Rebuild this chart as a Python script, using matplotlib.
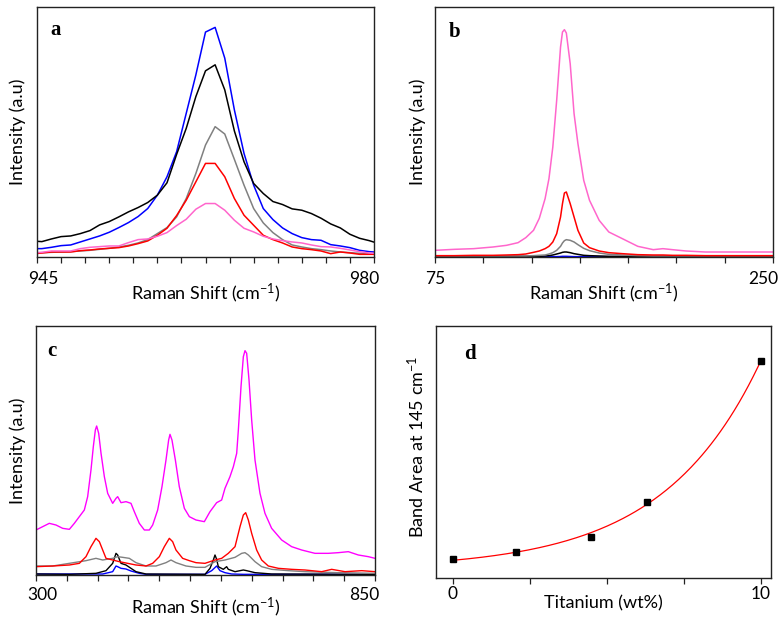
import numpy as np
import matplotlib
matplotlib.use("Agg")
import matplotlib.pyplot as plt
from matplotlib.transforms import ScaledTranslation

plt.rcParams['font.family'] = ['Lato', 'DejaVu Sans']
plt.rcParams['mathtext.default'] = 'regular'

# ---------------- Panel a data (945-980 cm-1) ----------------
a_x = np.arange(944.5, 981.0, 1.0)
a_blue = 770 - np.array([745, 745, 741, 736, 734, 725, 716, 707, 696, 682, 667, 649, 625, 585, 530, 455,
                         340, 225, 97, 83, 175, 330, 460, 555, 625, 658, 683, 700, 712, 718, 720, 733,
                         737, 742, 750, 754, 756])
a_black = 770 - np.array([722, 724, 716, 709, 707, 700, 691, 674, 664, 650, 635, 622, 607, 585, 548, 463,
                          385, 290, 213, 195, 270, 393, 485, 550, 580, 604, 613, 626, 630, 640, 654, 671,
                          683, 702, 714, 721, 730])
a_gray = 770 - np.array([758, 757, 756, 755, 754, 752, 750, 747, 744, 740, 735, 728, 718, 700, 682, 650,
                         595, 520, 435, 380, 402, 478, 555, 625, 668, 697, 718, 734, 740, 745, 748, 752,
                         755, 757, 759, 760, 761])
a_red = 770 - np.array([761, 758, 755, 755, 755, 751, 749, 746, 744, 742, 737, 730, 722, 705, 684, 646,
                        600, 545, 490, 490, 530, 595, 645, 675, 705, 718, 728, 740, 745, 748, 752, 760,
                        755, 758, 762, 762, 762])
a_pink = 770 - np.array([758, 756, 752, 752, 752, 745, 741, 739, 737, 737, 727, 718, 716, 708, 697, 676,
                         657, 627, 610, 610, 630, 660, 684, 695, 708, 716, 721, 725, 728, 734, 739, 740,
                         744, 749, 754, 758, 760])
a_ticks = [945, 947.5, 950, 952.5, 955, 957.5, 960, 962.5, 965, 967.5, 970, 972.5, 975, 977.5, 980]

# ---------------- Panel b data (75-250 cm-1) ----------------
b_x = np.array([75, 85, 95, 105, 112, 118, 122, 126, 129, 132, 134, 136, 138, 140, 141, 142, 143, 145,
                147, 149, 152, 155, 160, 165, 172, 180, 188, 193, 198, 205, 215, 230, 250])
b_pink = 770 - np.array([750, 747, 745, 740, 735, 727, 712, 690, 654, 595, 535, 440, 300, 140, 95, 88, 98,
                         190, 340, 430, 540, 600, 660, 695, 715, 738, 748, 745, 748, 752, 755, 755, 755])
b_red = 770 - np.array([766, 766, 765, 765, 764, 763, 761, 756, 752, 745, 738, 725, 700, 650, 610, 578, 575,
                        610, 650, 690, 728, 742, 752, 757, 760, 763, 764, 764, 765, 765, 766, 766, 766])
b_gray = 770 - np.array([767, 767, 767, 767, 767, 767, 767, 766, 765, 764, 761, 757, 750, 738, 728, 721, 718,
                         720, 725, 733, 744, 751, 758, 762, 764, 766, 767, 767, 767, 767, 767, 767, 767])
b_black = 770 - np.array([768, 768, 768, 768, 768, 768, 768, 768, 768, 767, 766, 764, 761, 758, 756, 755, 755,
                          757, 760, 762, 765, 766, 767, 768, 768, 768, 768, 768, 768, 768, 768, 768, 768])
b_blue = 770 - np.array([769, 769, 769, 769, 769, 769, 769, 769, 769, 769, 769, 769, 769, 768.5, 768, 768, 768,
                         768.5, 769, 769, 769, 769, 769, 769, 769, 769, 769, 769, 769, 769, 769, 769, 769])
b_ticks = [75, 100, 125, 150, 175, 200, 225, 250]

# ---------------- Panel c data (300-850 cm-1) ----------------
c_mag_x = np.array([300.0, 310.8, 321.6, 332.4, 343.3, 354.1, 362.2, 370.3, 378.4, 383.8, 389.2, 393.0,
                    396.3, 398.4, 401.7, 405.5, 410.9, 416.3, 424.4, 429.8, 432.5, 437.9, 446.0, 454.1,
                    459.5, 467.6, 475.8, 483.9, 489.3, 497.4, 504.4, 510.9, 515.2, 517.4, 520.6, 526.1,
                    532.5, 540.7, 548.8, 559.6, 573.1, 582.3, 593.1, 601.2, 606.6, 614.7, 620.2, 625.6,
                    628.3, 632.6, 636.4, 639.1, 641.8, 645.6, 649.9, 655.3, 663.4, 671.5, 682.3, 698.6,
                    714.8, 731.0, 752.6, 774.3, 790.5, 806.7, 823.0, 839.2, 850.0])
c_mag = np.array([135, 145, 155, 150, 140, 137, 155, 175, 195, 235, 315, 385, 435, 447, 425, 365, 295, 245,
                  215, 230, 235, 217, 220, 215, 190, 155, 135, 135, 150, 195, 265, 345, 405, 422, 405, 345,
                  265, 200, 175, 165, 160, 190, 217, 225, 260, 295, 325, 365, 435, 565, 655, 673, 665, 585,
                  465, 345, 245, 185, 140, 105, 85, 75, 65, 65, 67, 70, 60, 55, 50])
c_red_x = np.array([300.0, 327.0, 354.1, 370.3, 381.1, 389.2, 397.3, 402.8, 408.2, 413.6, 424.4, 435.2,
                    448.7, 462.2, 478.5, 489.3, 500.1, 508.2, 516.3, 521.7, 527.1, 537.9, 548.8, 559.6,
                    574.2, 590.4, 601.2, 612.0, 622.9, 631.0, 636.4, 640.2, 644.5, 649.9, 658.0, 666.1,
                    676.9, 693.2, 714.8, 736.4, 763.5, 779.7, 801.3, 828.4, 850.0])
c_red = np.array([25, 27, 30, 35, 55, 85, 110, 100, 75, 50, 45, 40, 35, 30, 27, 35, 55, 85, 110, 100, 75,
                  50, 43, 37, 35, 45, 50, 65, 85, 145, 180, 187, 165, 125, 75, 45, 27, 20, 17, 15, 10, 17,
                  10, 13, 10])
c_gray_x = np.array([300.0, 327.0, 354.1, 381.1, 397.3, 408.2, 424.4, 432.5, 440.6, 451.4, 462.2, 478.5,
                     494.7, 510.9, 519.0, 527.1, 543.4, 559.6, 574.2, 590.4, 606.6, 622.9, 633.7, 639.1,
                     644.5, 655.3, 666.1, 682.3, 709.4, 736.4, 790.5, 850.0])
c_gray = np.array([27, 27, 35, 43, 50, 45, 50, 55, 53, 50, 37, 27, 27, 37, 45, 37, 27, 23, 23, 40, 45, 53,
                   65, 67, 60, 40, 25, 17, 13, 10, 7, 5])
c_black_x = np.array([300.0, 354.1, 397.3, 413.6, 424.4, 429.8, 432.5, 437.9, 446.0, 454.1, 462.2, 478.5,
                      574.2, 582.3, 587.7, 590.4, 593.1, 595.8, 603.9, 609.3, 612.0, 622.9, 636.4, 641.8,
                      655.3, 682.3, 850.0])
c_black = np.array([3, 2, 5, 13, 35, 65, 60, 35, 30, 20, 10, 3, 2, 20, 45, 60, 47, 25, 17, 25, 17, 10, 15,
                    13, 7, 3, 2])
c_blue_x = np.array([300.0, 408.2, 424.4, 429.8, 432.5, 437.9, 446.0, 454.1, 467.6, 478.5, 574.2, 585.0,
                     593.1, 598.5, 606.6, 617.4, 636.4, 850.0])
c_blue = np.array([3, 3, 10, 27, 25, 20, 18, 12, 5, 2, 2, 13, 27, 13, 7, 3, 2, 2])
c_ticks = list(range(300, 851, 50))

# ---------------- Panel d data ----------------
d_ti = np.array([0.0, 2.06, 4.48, 6.3, 10.0])
d_area = np.array([56, 79, 123, 229, 650])
d_ticks = [0, 2.5, 5, 7.5, 10]

# ---------------- Figure ----------------
fig = plt.figure(figsize=(7.8, 6.18), dpi=100)
W, H = 780.0, 618.0


def add_ax(l, t, r, b):
    return fig.add_axes([l / W, 1 - b / H, (r - l) / W, (b - t) / H])


axa = add_ax(37, 7, 374, 257)
axb = add_ax(435, 7, 773, 257)
axc = add_ax(36, 326, 375, 575)
axd = add_ax(436, 326, 771, 578)

PINK = '#ff66cc'
MAG = '#ff00ff'
GRAY = '#808080'
lw = 1.1

axa.plot(a_x, a_blue, color='#0000ff', lw=lw)
axa.plot(a_x, a_black, color='black', lw=lw)
axa.plot(a_x, a_gray, color=GRAY, lw=lw)
axa.plot(a_x, a_red, color='#ff0000', lw=lw)
axa.plot(a_x, a_pink, color=PINK, lw=lw)
axa.set_xlim(945, 980)
axa.set_ylim(0, 748)

axb.plot(b_x, b_blue, color='#0000ff', lw=lw)
axb.plot(b_x, b_black, color='black', lw=lw)
axb.plot(b_x, b_gray, color=GRAY, lw=lw)
axb.plot(b_x, b_red, color='#ff0000', lw=lw)
axb.plot(b_x, b_pink, color=PINK, lw=lw)
axb.set_xlim(75, 250)
axb.set_ylim(0, 750)

lwc = 1.0
axc.plot(c_blue_x, c_blue, color='#0000ff', lw=lwc)
axc.plot(c_black_x, c_black, color='black', lw=lwc)
axc.plot(c_gray_x, c_gray, color=GRAY, lw=lwc)
axc.plot(c_red_x, c_red, color='#ff0000', lw=lwc)
axc.plot(c_mag_x, c_mag, color=MAG, lw=lwc)
axc.set_xlim(300, 850)
axc.set_ylim(0, 747)

# exponential fit y = y0 + A*exp(x/t) from the data points
best = None
for t in np.linspace(0.5, 30, 3000):
    M = np.column_stack([np.ones_like(d_ti), np.exp(d_ti / t)])
    coef, res, _, _ = np.linalg.lstsq(M, d_area, rcond=None)
    err = np.sum((M @ coef - d_area) ** 2)
    if best is None or err < best[0]:
        best = (err, t, coef)
_, tb, cb = best
xf = np.linspace(d_ti.min(), d_ti.max(), 200)
axd.plot(xf, cb[0] + cb[1] * np.exp(xf / tb), color='#ff0000', lw=0.9)
axd.plot(d_ti, d_area, 's', color='black', ms=4.8, zorder=3)
axd.set_xlim(-0.54, 10.33)
axd.set_ylim(0, 755)

FS = 12.5
LFS = 13


def style(ax, ticks, lab_first, lab_last, pad, dx_first, dx_last):
    ax.set_yticks([])
    labels = [''] * len(ticks)
    labels[0] = lab_first
    labels[-1] = lab_last
    ax.set_xticks(ticks, labels)
    ax.tick_params(axis='x', direction='out', length=4, width=0.9, pad=pad, labelsize=FS, color='#222222')
    for s in ax.spines.values():
        s.set_linewidth(1.0)
        s.set_color('#222222')
    tl = ax.get_xticklabels()
    tl[0].set_transform(tl[0].get_transform() + ScaledTranslation(dx_first / 100, 0, fig.dpi_scale_trans))
    tl[-1].set_transform(tl[-1].get_transform() + ScaledTranslation(dx_last / 100, 0, fig.dpi_scale_trans))


style(axa, a_ticks, '945', '980', 6, 6, -10)
style(axb, b_ticks, '75', '250', 6, 0, -10)
style(axc, c_ticks, '300', '850', 5, 6, -11)
style(axd, d_ticks, '0', '10', 2, 0, 0)

xl = 'Raman Shift (cm$^{-1}$)'
for ax in (axa, axb):
    ax.set_xlabel(xl, fontsize=LFS)
    ax.xaxis.set_label_coords(0.5, -0.098)
    ax.set_ylabel('Intensity (a.u)', fontsize=LFS)
axa.yaxis.set_label_coords(-0.033, 0.5)
axb.yaxis.set_label_coords(-0.027, 0.5)
axc.set_xlabel(xl, fontsize=LFS)
axc.xaxis.set_label_coords(0.5, -0.082)
axc.set_ylabel('Intensity (a.u)', fontsize=LFS)
axc.yaxis.set_label_coords(-0.030, 0.5)
axd.set_xlabel('Titanium (wt%)', fontsize=LFS)
axd.xaxis.set_label_coords(0.5, -0.068)
axd.set_ylabel('Band Area at 145 cm$^{-1}$', fontsize=LFS)
axd.yaxis.set_label_coords(-0.028, 0.52)

lf = dict(family=['Liberation Serif', 'DejaVu Serif'], fontweight='bold', fontsize=15, va='baseline')
axa.text(0.039, 0.888, 'a', transform=axa.transAxes, **lf)
axb.text(0.041, 0.880, 'b', transform=axb.transAxes, **lf)
axc.text(0.032, 0.880, 'c', transform=axc.transAxes, **lf)
axd.text(0.084, 0.869, 'd', transform=axd.transAxes, **lf)

fig.savefig('out.png', dpi=100)
